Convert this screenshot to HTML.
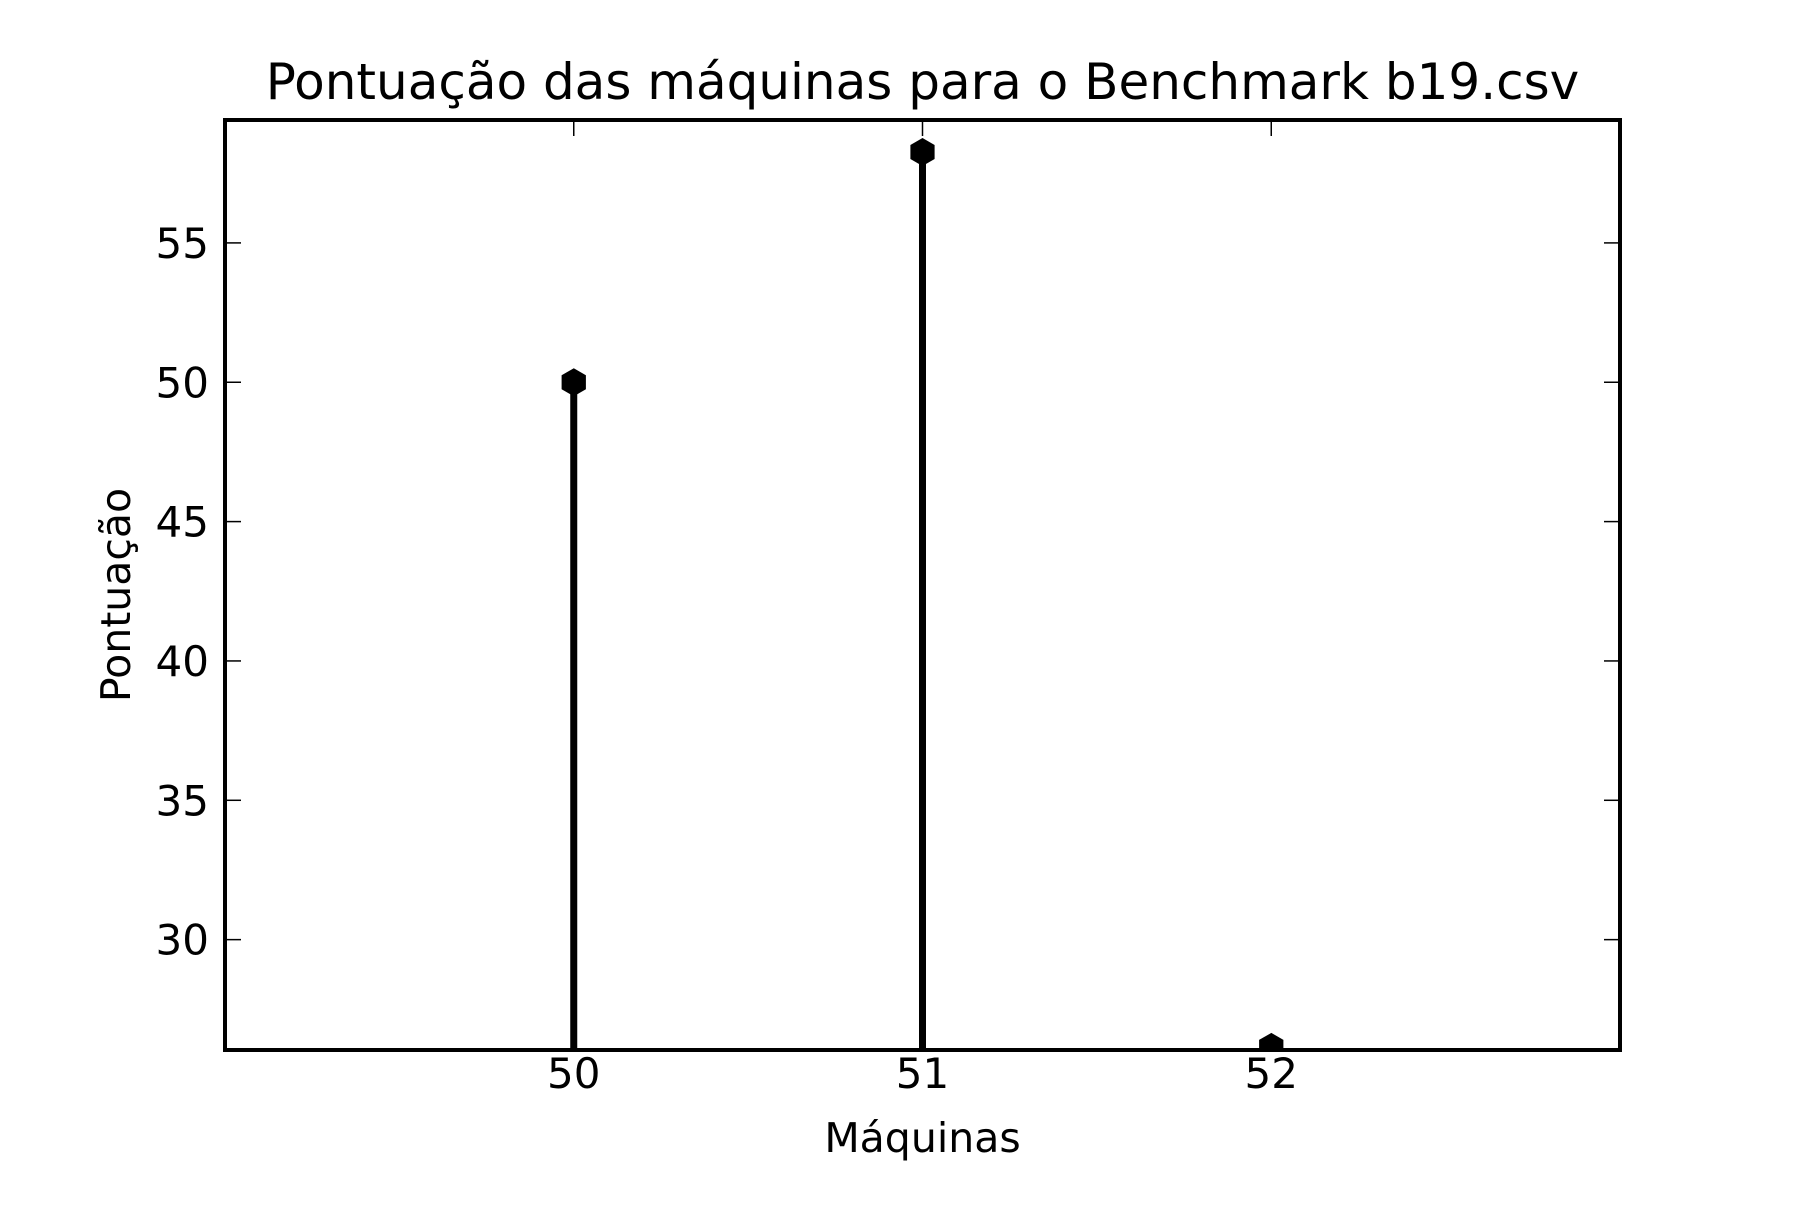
<!DOCTYPE html>
<html><head><meta charset="utf-8"><style>html,body{margin:0;padding:0;background:#fff}</style></head>
<body>
<svg id="chart" width="1800" height="1200" xmlns="http://www.w3.org/2000/svg" font-family="DejaVu Sans, Liberation Sans, sans-serif">
<rect width="1800" height="1200" fill="#fff"/>
<g id="plot"></g>
</svg>
<script>
const categories = [50, 51, 52];
const scores = [50, 58.26, 26.15];
const yTicks = [30, 35, 40, 45, 50, 55];
const xDomain = [49, 53];
const yDomain = [26.04, 59.41];
const L=225,R=1620,T=120,B=1050;
const xs=v=>L+(v-xDomain[0])/(xDomain[1]-xDomain[0])*(R-L);
const ys=v=>B-(v-yDomain[0])/(yDomain[1]-yDomain[0])*(B-T);
const NS='http://www.w3.org/2000/svg';
const g=document.getElementById('plot');
function mk(tag,attrs){const e=document.createElementNS(NS,tag);for(const k in attrs)e.setAttribute(k,attrs[k]);g.appendChild(e);return e;}
const clip=mk('clipPath',{id:'axclip'});
const cr=document.createElementNS(NS,'rect');
cr.setAttribute('x',L);cr.setAttribute('y',T);cr.setAttribute('width',R-L);cr.setAttribute('height',B-T);
clip.appendChild(cr);
categories.forEach((c,i)=>{
  const x=xs(c), y=ys(scores[i]);
  const s=mk('line',{x1:x,y1:B,x2:x,y2:y,stroke:'#000','stroke-width':7});
  
  
  const r=14, pts=[];
  for(let k=0;k<6;k++){const a=Math.PI/2+k*Math.PI/3;pts.push((x+r*Math.cos(a)).toFixed(1)+','+(y-r*Math.sin(a)).toFixed(1));}
  const m=mk('polygon',{points:pts.join(' '),fill:'#000','clip-path':'url(#axclip)'});
  
  
});
categories.forEach(c=>{
  const x=xs(c);
  const t1=mk('line',{x1:x,y1:B,x2:x,y2:B-16,stroke:'#000','stroke-width':1.5});
  
  
  const t2=mk('line',{x1:x,y1:T,x2:x,y2:T+16,stroke:'#000','stroke-width':1.5});
  
  
  const tl=mk('text',{x:x,y:1088,'text-anchor':'middle','font-size':42,fill:'#000'});
  tl.textContent=c;
  
  
});
yTicks.forEach(v=>{
  const y=ys(v);
  const t1=mk('line',{x1:L,y1:y,x2:L+16,y2:y,stroke:'#000','stroke-width':1.5});
  
  
  const t2=mk('line',{x1:R,y1:y,x2:R-16,y2:y,stroke:'#000','stroke-width':1.5});
  
  
  const tl=mk('text',{x:209,y:y+15,'text-anchor':'end','font-size':42,fill:'#000'});
  tl.textContent=v;
  
  
});
const fr=mk('rect',{x:L,y:T,width:R-L,height:B-T,fill:'none',stroke:'#000','stroke-width':4});


const ti=mk('text',{x:(L+R)/2,y:99,'text-anchor':'middle','font-size':50,fill:'#000'});
ti.textContent='Pontuação das máquinas para o Benchmark b19.csv';


const xl=mk('text',{x:(L+R)/2,y:1152,'text-anchor':'middle','font-size':41,fill:'#000'});
xl.textContent='Máquinas';


const yl=mk('text',{x:0,y:0,'text-anchor':'middle','font-size':41,fill:'#000',transform:'translate(130,'+((T+B)/2+10)+') rotate(-90)'});
yl.textContent='Pontuação';


</script>
</body></html>
